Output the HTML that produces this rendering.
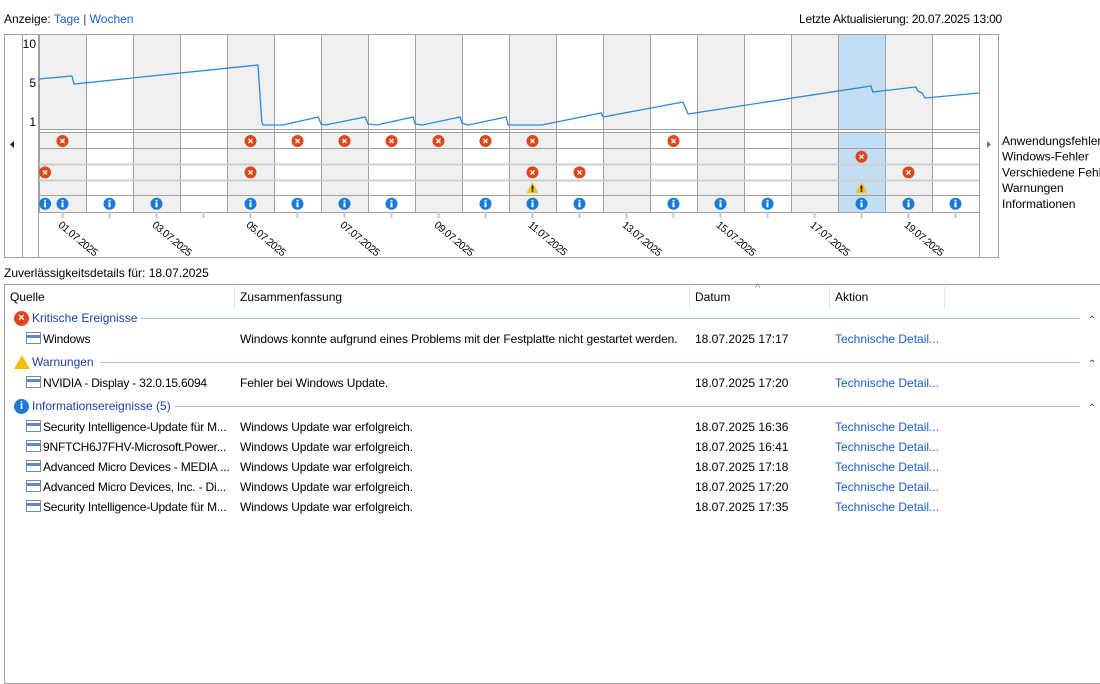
<!DOCTYPE html>
<html><head><meta charset="utf-8"><style>
body{margin:0;width:1100px;height:676px;background:#fff;font-family:"Liberation Sans",sans-serif;font-size:12px;color:#000;position:relative;overflow:hidden}
.a{position:absolute;white-space:nowrap}
.lnk{color:#1a5fd0}
.grp{color:#1c3fa8}
.gi{position:absolute;left:0;top:0}
</style></head><body>
<div class="a" style="left:4px;top:12px">Anzeige: <span class="lnk">Tage</span> <span style="color:#5a2a7a">|</span> <span class="lnk">Wochen</span></div>
<div class="a" style="left:799px;top:12px;letter-spacing:-0.2px">Letzte Aktualisierung: 20.07.2025 13:00</div>
<svg class="a" style="left:0;top:0" width="1100" height="262" id="chart"></svg>
<div class="a" style="left:4px;top:266px">Zuverlässigkeitsdetails für: 18.07.2025</div>
<div class="a" style="left:4px;top:284px;width:1100px;height:400px;border:1px solid #a0a0a0;box-sizing:border-box"></div>
<div class="a" style="left:10px;top:290px">Quelle</div>
<div class="a" style="left:234px;top:286px;width:1px;height:22px;background:#e5e5e5"></div>
<div class="a" style="left:240px;top:290px">Zusammenfassung</div>
<div class="a" style="left:689px;top:286px;width:1px;height:22px;background:#e5e5e5"></div>
<div class="a" style="left:695px;top:290px">Datum</div>
<div class="a" style="left:755px;top:282px;color:#888;font-size:11px">^</div>
<div class="a" style="left:829px;top:286px;width:1px;height:22px;background:#e5e5e5"></div>
<div class="a" style="left:835px;top:290px">Aktion</div>
<div class="a" style="left:944px;top:286px;width:1px;height:22px;background:#e5e5e5"></div>
<div id="rows"></div>
<script>
const NS="http://www.w3.org/2000/svg";
const svg=document.getElementById('chart');
function el(t,a,p){const e=document.createElementNS(NS,t);for(const k in a)e.setAttribute(k,a[k]);(p||svg).appendChild(e);return e;}
const dates=["01.07.2025","02.07.2025","03.07.2025","04.07.2025","05.07.2025","06.07.2025","07.07.2025","08.07.2025","09.07.2025","10.07.2025","11.07.2025","12.07.2025","13.07.2025","14.07.2025","15.07.2025","16.07.2025","17.07.2025","18.07.2025","19.07.2025","20.07.2025"];
const grayCols=[0,2,4,6,8,10,12,14,16,18];
const selectedCol=17;
const yTicks=[10,5,1];
const lineDays=[0,0.70,0.745,4.66,4.74,4.77,5.19,5.94,6.0,6.09,6.94,7.0,7.19,7.96,8.0,8.15,8.96,9.0,9.13,9.94,9.98,10.70,11.96,12.0,13.70,13.81,17.70,17.74,18.66,18.70,18.79,18.85,20.0];
const lineValues=[5.90,6.24,5.33,7.49,1.0,0.66,0.66,1.57,0.77,0.66,1.57,0.77,0.66,1.57,0.77,0.66,1.57,0.88,0.66,1.57,0.66,0.66,2.03,1.57,3.28,1.91,5.10,4.42,4.99,4.53,4.30,3.73,4.30];
const rowNames=["Anwendungsfehler","Windows-Fehler","Verschiedene Fehler","Warnungen","Informationen"];
const appErrors=[0.5,4.5,5.5,6.5,7.5,8.5,9.5,10.5,13.5];
const winErrors=[17.5];
const miscErrors=[0.13,4.5,10.5,11.5,18.5];
const warnings=[10.5,17.5];
const infos=[0.13,0.5,1.5,2.5,4.5,5.5,6.5,7.5,9.5,10.5,11.5,13.5,14.5,15.5,17.5,18.5,19.5];
const X0=39,DW=47,N=20;
const xs=d=>X0+d*DW;
const ys=v=>122-(v-1)*8.78;
const rowY=i=>141+i*15.7;
el('rect',{x:4.5,y:34.5,width:994,height:223,fill:'#fff',stroke:'#a0a0a0'});
el('line',{x1:22.5,y1:34,x2:22.5,y2:258,stroke:'#a0a0a0'});
el('line',{x1:38.5,y1:34,x2:38.5,y2:258,stroke:'#a0a0a0'});
el('line',{x1:979.5,y1:34,x2:979.5,y2:258,stroke:'#a0a0a0'});
for(let i=0;i<N;i++){
  const fill=i===selectedCol?'#c3ddf4':(grayCols.includes(i)?'#f0f0f0':'#fff');
  const r1=el('rect',{x:xs(i),y:35,width:DW,height:94,fill:fill});
  
  
  el('rect',{x:xs(i),y:133,width:DW,height:79,fill:fill});
}
for(let i=0;i<=N;i++){
  el('line',{x1:xs(i)+.5,y1:34,x2:xs(i)+.5,y2:212,stroke:'#a0a0a0'});
}
el('line',{x1:39,y1:129.5,x2:979,y2:129.5,stroke:'#a0a0a0'});
el('line',{x1:39,y1:132.5,x2:979,y2:132.5,stroke:'#a0a0a0'});
[148.5,195.5].forEach(y=>el('line',{x1:39,y1:y,x2:979,y2:y,stroke:'#a0a0a0'}));
[164.5,180.5].forEach(y=>el('line',{x1:39,y1:y,x2:979,y2:y,stroke:'#cfcfcf','stroke-width':2}));
el('line',{x1:39,y1:212.5,x2:979,y2:212.5,stroke:'#a0a0a0'});
yTicks.forEach(v=>{const t=el('text',{x:36,y:ys(v)+(v===1?4:v===5?0:5),'text-anchor':'end','font-size':12});t.textContent=v;
});
const pts=lineDays.map((d,i)=>xs(d).toFixed(1)+','+ys(lineValues[i]).toFixed(1)).join(' ');
const pl=el('polyline',{points:pts,fill:'none',stroke:'#2a8ae0','stroke-width':1.3});


for(let i=0;i<N;i++){
  el('line',{x1:xs(i+.5),y1:212,x2:xs(i+.5),y2:218,stroke:'#c8c8c8','stroke-width':2});
  if(i%2===0){const t=el('text',{x:0,y:0,'font-size':10.5,'letter-spacing':'-0.5',transform:`translate(${xs(i+.5)-5},${226}) rotate(40)`});t.textContent=dates[i];
  }
}
function errIcon(d,row){const g=el('g',{});
 el('circle',{cx:xs(d),cy:rowY(row),r:6,fill:'#e0461c'},g);
 el('path',{d:`M${xs(d)-2},${rowY(row)-2}l4,4m0,-4l-4,4`,stroke:'#fff','stroke-width':1.3},g);}
function infoIcon(d,row){const g=el('g',{});
 el('circle',{cx:xs(d),cy:rowY(row),r:6,fill:'#1a7ad8'},g);
 el('rect',{x:xs(d)-1,y:rowY(row)-1.5,width:2,height:5,fill:'#fff'},g);
 el('rect',{x:xs(d)-1,y:rowY(row)-4,width:2,height:1.6,fill:'#fff'},g);}
function warnIcon(d,row){const g=el('g',{});
 const x=xs(d),y=rowY(row);
 el('path',{d:`M${x},${y-6}L${x+6},${y+5}L${x-6},${y+5}Z`,fill:'#f5c012'},g);
 el('rect',{x:x-.8,y:y-2.5,width:1.6,height:4,fill:'#000'},g);
 el('rect',{x:x-.8,y:y+2.2,width:1.6,height:1.4,fill:'#000'},g);}
appErrors.forEach(d=>errIcon(d,0));
winErrors.forEach(d=>errIcon(d,1));
miscErrors.forEach(d=>errIcon(d,2));
warnings.forEach(d=>warnIcon(d,3));
infos.forEach(d=>infoIcon(d,4));
rowNames.forEach((n,i)=>{const t=el('text',{x:1002,y:rowY(i)+4,'font-size':12});t.textContent=n;
});
const la=el('path',{d:'M14,141L10,144.5L14,148Z',fill:'#222'});
const ra=el('path',{d:'M987,141L991,144.5L987,148Z',fill:'#777'});
const rows=document.getElementById('rows');
function div(html,l,t,cls,name,inter){const d=document.createElement('div');d.className='a '+(cls||'');d.style.left=l+'px';d.style.top=t+'px';d.innerHTML=html;


rows.appendChild(d);return d;}
const docIcon='<span style="display:inline-block;width:13px;height:10px;border:1px solid #7a8a9a;background:linear-gradient(#fff 0 2px,#5a8ad0 2px 5px,#fff 5px);vertical-align:-1px;margin-right:2px;margin-left:2px"></span>';
const errI='<span class="gi" style="width:15px;height:15px;border-radius:50%;background:#e0461c;color:#fff;text-align:center;line-height:15px;font-size:11px;font-weight:bold">×</span>';
const wrnI='<span class="gi" style="width:0;height:0;border-left:8px solid transparent;border-right:8px solid transparent;border-bottom:14px solid #f5c012"></span>';
const infI='<span class="gi" style="width:15px;height:15px;border-radius:50%;background:#1a7ad8;color:#fff;text-align:center;line-height:15px;font-size:11px;font-weight:bold">i</span>';
function group(icon,label,y,w){
 div(icon,14,y-7,'','group-icon-'+label.split(' ')[0].toLowerCase(),false);
 div(label,32,y-7,'grp','group-'+label.split(' ')[0].toLowerCase(),true);
 const ln=div('',w,y,'','group-line',false);ln.style.width=(1080-w)+'px';ln.style.height='1px';ln.style.background='#b0c4e8';
 div('<span style="color:#1c3fa8;font-size:10px">&#8963;</span>',1088,y-6,'','collapse-'+label.split(' ')[0].toLowerCase(),true);}
group(errI,'Kritische Ereignisse',318,140);
group(wrnI,'Warnungen',362,100);
group(infI,'Informationsereignisse (5)',406,175);
const tRows=[
[339,'Windows','Windows konnte aufgrund eines Problems mit der Festplatte nicht gestartet werden.','18.07.2025 17:17'],
[383,'NVIDIA - Display - 32.0.15.6094','Fehler bei Windows Update.','18.07.2025 17:20'],
[427,'Security Intelligence-Update für M...','Windows Update war erfolgreich.','18.07.2025 16:36'],
[447,'9NFTCH6J7FHV-Microsoft.Power...','Windows Update war erfolgreich.','18.07.2025 16:41'],
[467,'Advanced Micro Devices - MEDIA ...','Windows Update war erfolgreich.','18.07.2025 17:18'],
[487,'Advanced Micro Devices, Inc. - Di...','Windows Update war erfolgreich.','18.07.2025 17:20'],
[507,'Security Intelligence-Update für M...','Windows Update war erfolgreich.','18.07.2025 17:35']];
tRows.forEach((r,i)=>{const y=r[0]-7;
 div(docIcon+r[1],24,y,'','row-source-'+i,true).style.letterSpacing='-0.2px';
 div(r[2],240,y,'','row-summary-'+i,false).style.letterSpacing='-0.1px';
 div(r[3],695,y,'','row-date-'+i,false);
 div('Technische Detail...',835,y,'lnk','technical-details-link-'+i,true);});
</script>
</body></html>
